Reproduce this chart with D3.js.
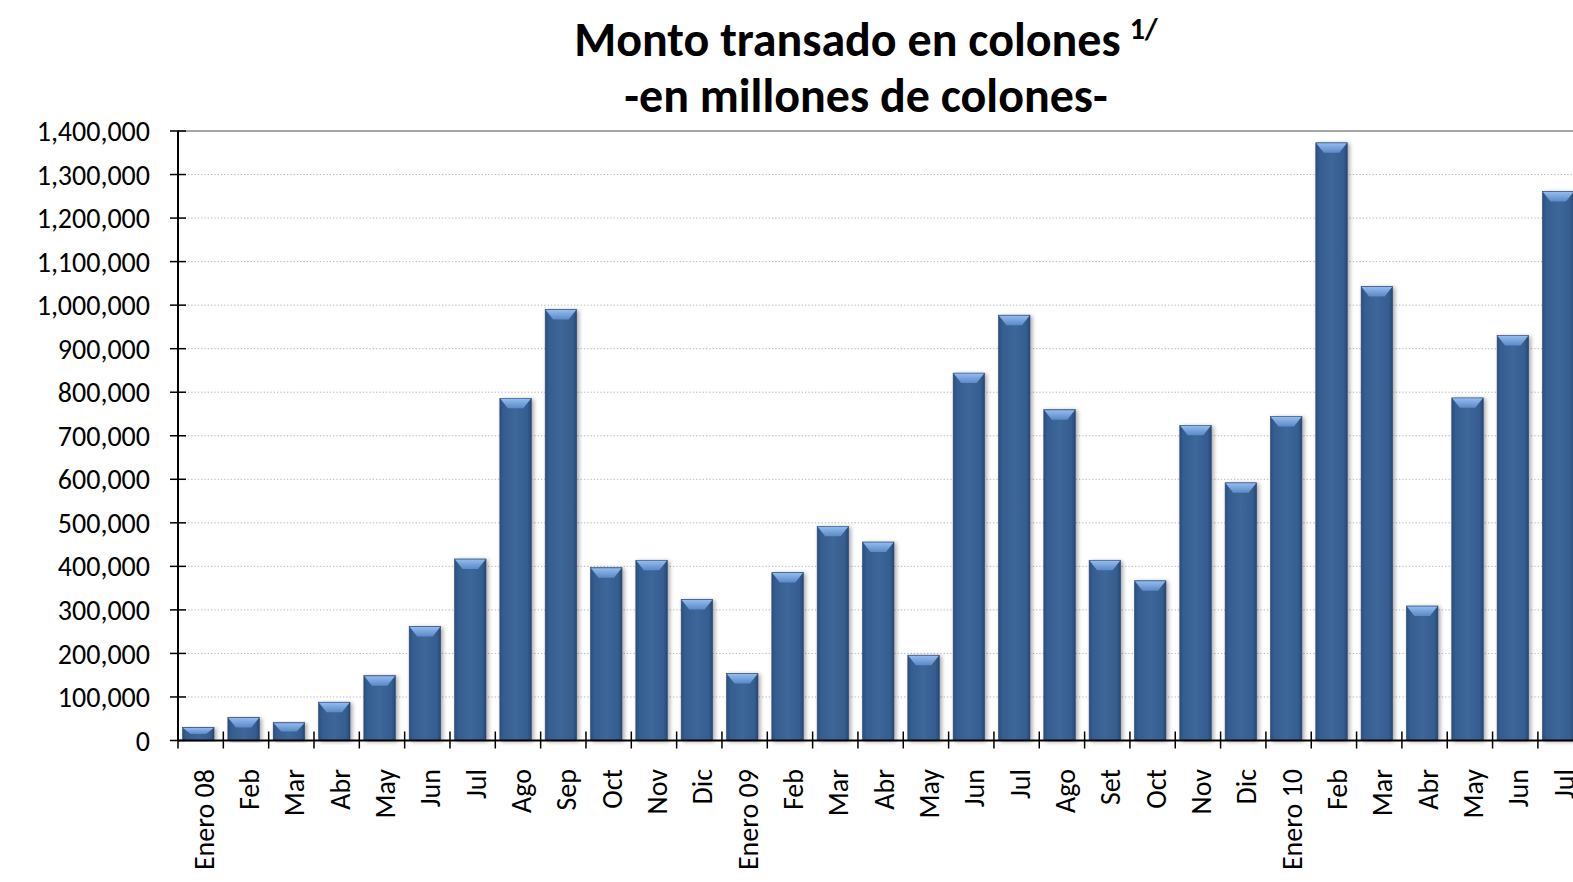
<!DOCTYPE html>
<html>
<head>
<meta charset="utf-8">
<script src="https://cdn.jsdelivr.net/npm/d3@7"></script>
<style>
  html, body { margin: 0; padding: 0; background: #fff; overflow: hidden; }
  svg { display: block; }
  text { font-family: Carlito, Calibri, Lato, "Open Sans", sans-serif; fill: #000; }
</style>
</head>
<body>
<svg id="chart" width="1573" height="882"></svg>
<script>
const categories = ["Enero 08","Feb","Mar","Abr","May","Jun","Jul","Ago","Sep","Oct","Nov","Dic",
  "Enero 09","Feb","Mar","Abr","May","Jun","Jul","Ago","Set","Oct","Nov","Dic",
  "Enero 10","Feb","Mar","Abr","May","Jun","Jul"];
const values = [30000, 53000, 41000, 88000, 149000, 262000, 417000, 786000, 990000, 397000, 414000, 324000,
  154000, 386000, 492000, 456000, 196000, 844000, 977000, 760000, 414000, 367000, 724000, 592000,
  744000, 1373000, 1043000, 309000, 787000, 930000, 1261000];
const yTickValues = [0,100000,200000,300000,400000,500000,600000,700000,800000,900000,1000000,1100000,1200000,1300000,1400000];
const titleLine1 = "Monto transado en colones";
const titleSup = "1/";
const titleLine2 = "-en millones de colones-";

(function () {
const svg = d3.select("#chart");
const keys = categories.map((c, i) => i);

const plotLeft = 178, step = 45.33, plotTop = 131, plotBottom = 740.5;
const x = d3.scaleBand().domain(keys).range([plotLeft, plotLeft + step * categories.length]).padding(0);
const y = d3.scaleLinear().domain([0, 1400000]).range([plotBottom, plotTop]);

// defs
const defs = svg.append("defs");
const g1 = defs.append("linearGradient").attr("id", "barGrad").attr("x1", "0").attr("x2", "1").attr("y1", "0").attr("y2", "0");
g1.append("stop").attr("offset", "0").attr("stop-color", "#2c4e7b");
g1.append("stop").attr("offset", "0.12").attr("stop-color", "#355d8f");
g1.append("stop").attr("offset", "0.5").attr("stop-color", "#3d6799");
g1.append("stop").attr("offset", "0.88").attr("stop-color", "#355d8f");
g1.append("stop").attr("offset", "1").attr("stop-color", "#284770");
const g2 = defs.append("linearGradient").attr("id", "bevelGrad").attr("x1", "0").attr("x2", "0").attr("y1", "0").attr("y2", "1");
g2.append("stop").attr("offset", "0").attr("stop-color", "#94bbee");
g2.append("stop").attr("offset", "1").attr("stop-color", "#5a8ac8");
const f = defs.append("filter").attr("id", "shadow").attr("x", "-20%").attr("y", "-5%").attr("width", "150%").attr("height", "115%");
f.append("feDropShadow").attr("dx", 2).attr("dy", 1).attr("stdDeviation", 2).attr("flood-color", "#000").attr("flood-opacity", 0.35);

// gridlines
svg.append("g").selectAll("line").data(yTickValues.filter(d => d > 0 && d < 1400000)).join("line")
  .attr("x1", plotLeft).attr("x2", 1573).attr("y1", d => y(d)).attr("y2", d => y(d))
  .attr("stroke", "#b5b5b5").attr("stroke-width", 1).attr("stroke-dasharray", "1.3,2");
svg.append("line").attr("x1", plotLeft).attr("x2", 1573).attr("y1", y(1400000)).attr("y2", y(1400000))
  .attr("stroke", "#8a8a8a").attr("stroke-width", 1.5);

// bars
const bw = x.bandwidth() * 0.695;
const boff = x.bandwidth() * 0.1;
const bars = svg.append("g").selectAll("g").data(values).join("g").attr("filter", "url(#shadow)");
bars.append("rect")
  .attr("x", (d, i) => x(i) + boff).attr("width", bw)
  .attr("y", d => y(d)).attr("height", d => y(0) - y(d))
  .attr("fill", "url(#barGrad)")
  .attr("stroke", "#2a4a74").attr("stroke-width", 0.6);
bars.append("path")
  .attr("d", (d, i) => {
    const x0 = x(i) + boff, x1 = x0 + bw, y0 = y(d);
    const h = Math.min(10, (y(0) - y(d)) / 2);
    return `M${x0 + 0.5},${y0 + 0.5}L${x1 - 0.5},${y0 + 0.5}L${x1 - 8},${y0 + h}L${x0 + 8},${y0 + h}Z`;
  })
  .attr("fill", "url(#bevelGrad)");

// y axis
const yAxis = svg.append("g");
yAxis.append("line").attr("x1", plotLeft).attr("x2", plotLeft).attr("y1", plotTop).attr("y2", plotBottom)
  .attr("stroke", "#000").attr("stroke-width", 2);
yAxis.selectAll("line.tick").data(yTickValues).join("line").attr("class", "tick")
  .attr("x1", plotLeft - 8).attr("x2", plotLeft + 8).attr("y1", d => y(d)).attr("y2", d => y(d))
  .attr("stroke", "#000").attr("stroke-width", 1.5);
yAxis.selectAll("text").data(yTickValues).join("text")
  .attr("x", 150).attr("y", d => y(d)).attr("dy", "0.36em").attr("text-anchor", "end")
  .attr("font-size", 28).text(d3.format(","));

// x axis
const xAxis = svg.append("g");
xAxis.append("line").attr("x1", plotLeft).attr("x2", 1573).attr("y1", plotBottom).attr("y2", plotBottom)
  .attr("stroke", "#000").attr("stroke-width", 2);
xAxis.selectAll("line.tick").data(keys.concat([categories.length])).join("line").attr("class", "tick")
  .attr("x1", d => d < categories.length ? x(d) : x(d - 1) + x.step())
  .attr("x2", d => d < categories.length ? x(d) : x(d - 1) + x.step())
  .attr("y1", plotBottom - 9).attr("y2", plotBottom + 8)
  .attr("stroke", "#000").attr("stroke-width", 1.5);
xAxis.selectAll("text").data(keys).join("text")
  .attr("transform", d => `translate(${x(d) + x.bandwidth() / 2 + 3},769) rotate(-90)`)
  .attr("dy", "0.36em").attr("text-anchor", "end").attr("font-size", 28)
  .text(d => categories[d]);

// title
const t1 = svg.append("text").attr("x", 866).attr("y", 56).attr("text-anchor", "middle")
  .attr("font-size", 48).attr("font-weight", "bold");
t1.append("tspan").text(titleLine1);
t1.append("tspan").attr("font-size", 30).attr("dx", 9).attr("dy", -17).text(titleSup);
svg.append("text").attr("x", 866).attr("y", 112).attr("text-anchor", "middle")
  .attr("font-size", 48).attr("font-weight", "bold").text(titleLine2);
})();
</script>
</body>
</html>
